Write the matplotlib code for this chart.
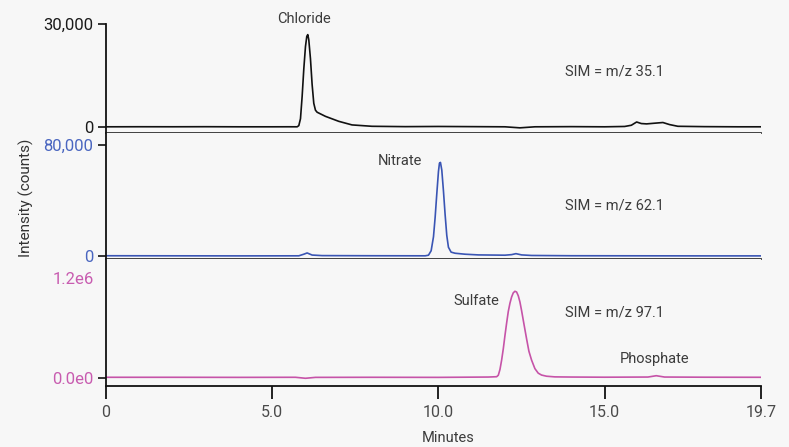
import matplotlib
matplotlib.use("Agg")
from matplotlib import pyplot as plt

plt.rcParams['font.family'] = ['Roboto', 'DejaVu Sans']

# chloride trace, SIM m/z 35.1 (minutes, counts)
cl_t = [0, 1, 2, 3, 4, 5, 5.5, 5.75, 5.8, 5.85, 5.9, 5.95, 6.0, 6.04, 6.07,
        6.1, 6.15, 6.2, 6.25, 6.3, 6.35, 6.6, 7.0, 7.4, 8.0, 9, 10, 11, 12,
        12.45, 12.9, 14, 15, 15.6, 15.8, 15.96, 16.1, 16.26, 16.5, 16.75,
        16.95, 17.2, 18, 19, 19.7]
cl_v = [150, 170, 160, 180, 150, 150, 160, 150, 500, 2500, 9000, 17000,
        23500, 26500, 27000, 25500, 20000, 12500, 7000, 5000, 4400, 3200, 1750,
        700, 300, 200, 250, 200, 150, -150, 150, 200, 150, 250, 600, 1550,
        1100, 1000, 1200, 1400, 800, 300, 200, 150, 150]

# nitrate trace, SIM m/z 62.1
no_t = [0, 2, 4, 5.8, 5.95, 6.05, 6.2, 6.5, 8, 9.6, 9.7, 9.78, 9.85, 9.9,
        9.95, 10.0, 10.03, 10.06, 10.1, 10.15, 10.2, 10.25, 10.3, 10.38, 10.5,
        10.8, 11.2, 12.0, 12.2, 12.33, 12.5, 12.8, 14, 16, 18, 19.7]
no_v = [400, 350, 300, 350, 1500, 2400, 900, 500, 400, 350, 800, 4000, 14000,
        28000, 45000, 61000, 67000, 67500, 62000, 47000, 30000, 15000, 6500,
        3000, 2200, 1500, 1000, 800, 1200, 1900, 1000, 600, 400, 350, 300, 300]

# sulfate / phosphate trace, SIM m/z 97.1
so_t = [0, 2, 4, 5.7, 6.0, 6.3, 8, 10, 11.5, 11.75, 11.8, 11.85, 11.9, 11.95,
        12.0, 12.05, 12.1, 12.15, 12.2, 12.25, 12.3, 12.35, 12.4, 12.45, 12.5,
        12.57, 12.65, 12.72, 12.8, 12.9, 13.0, 13.1, 13.25, 13.5, 14, 15,
        16.3, 16.55, 16.8, 18, 19.7]
so_v = [5000, 5000, 4000, 5000, -7000, 4000, 5000, 4000, 8000, 12000, 30000,
        100000, 213000, 350000, 510000, 660000, 800000, 900000, 975000,
        1025000, 1044000, 1035000, 990000, 915000, 810000, 650000, 470000,
        320000, 213000, 110000, 55000, 32000, 18000, 10000, 8000, 6000, 8000,
        24000, 8000, 6000, 5000]

traces = [
    (cl_t, cl_v, '#111111', '#1a1a1a', (-1570, 30000), [0, 30000], ['0', '30,000']),
    (no_t, no_v, '#3a55b4', '#4a66c0', (-2160, 88840), [0, 80000], ['0', '80,000']),
    (so_t, so_v, '#c653a8', '#c85cb0', (-100000, 1.43e6), [0, 1.2e6], ['0.0e0', '1.2e6']),
]

labels = [
    [('Chloride', 5.95, 31500), ('SIM = m/z 35.1', 15.3, 16200)],
    [('Nitrate', 8.85, 68700), ('SIM = m/z 62.1', 15.3, 36400)],
    [('Sulfate', 11.15, 930000), ('SIM = m/z 97.1', 15.3, 790000),
     ('Phosphate', 16.5, 220000)],
]

bg = '#f7f7f7'
fig = plt.figure(figsize=(7.89, 4.47), dpi=100, facecolor=bg)

boxes = [(0.1343, 0.7031, 0.8302, 0.2425),
         (0.1343, 0.4199, 0.8302, 0.2832),
         (0.1343, 0.1365, 0.8302, 0.2834)]

axes = []
for i, (t, v, lc, tc, ylim, yt, ytl) in enumerate(traces):
    ax = fig.add_axes(boxes[i])
    ax.set_facecolor(bg)
    ax.plot(t, v, color=lc, lw=1.2)
    ax.set_xlim(0, 19.7)
    ax.set_ylim(*ylim)
    ax.set_yticks(yt)
    ax.set_yticklabels(ytl, color=tc, fontsize=12)
    ax.tick_params(axis='y', length=6, width=1.2, pad=3, color='#111111')
    for s in ['top', 'right']:
        ax.spines[s].set_visible(False)
    ax.spines['left'].set_color('#111111')
    ax.spines['left'].set_linewidth(1.3)
    ax.spines['bottom'].set_color('#333333')
    ax.spines['bottom'].set_linewidth(1.3)
    for txt, x, y in labels[i]:
        ax.text(x, y, txt, ha='center', va='center', fontsize=10.5, color='#3c3c3c')
    if i < 2:
        ax.tick_params(axis='x', bottom=False, labelbottom=False)
    axes.append(ax)

# the top tick of the sulfate panel has a label only
axes[2].yaxis.get_major_ticks()[1].tick1line.set_visible(False)

ax = axes[2]
ax.set_xticks([0, 5.0, 10.0, 15.0, 19.7])
ax.set_xticklabels(['0', '5.0', '10.0', '15.0', '19.7'], fontsize=11.5, color='#4a4a4a')
ax.tick_params(axis='x', length=9, width=1.3, pad=5, color='#111111')
ax.spines['bottom'].set_color('#111111')

fig.text(448 / 789, 1 - 438 / 447, 'Minutes', ha='center', va='center',
         fontsize=10.5, color='#3c3c3c')
fig.text(26 / 789, 1 - 198 / 447, 'Intensity (counts)', ha='center', va='center',
         rotation=90, fontsize=11, color='#333333')

fig.savefig('out.png', dpi=100, facecolor=bg)
